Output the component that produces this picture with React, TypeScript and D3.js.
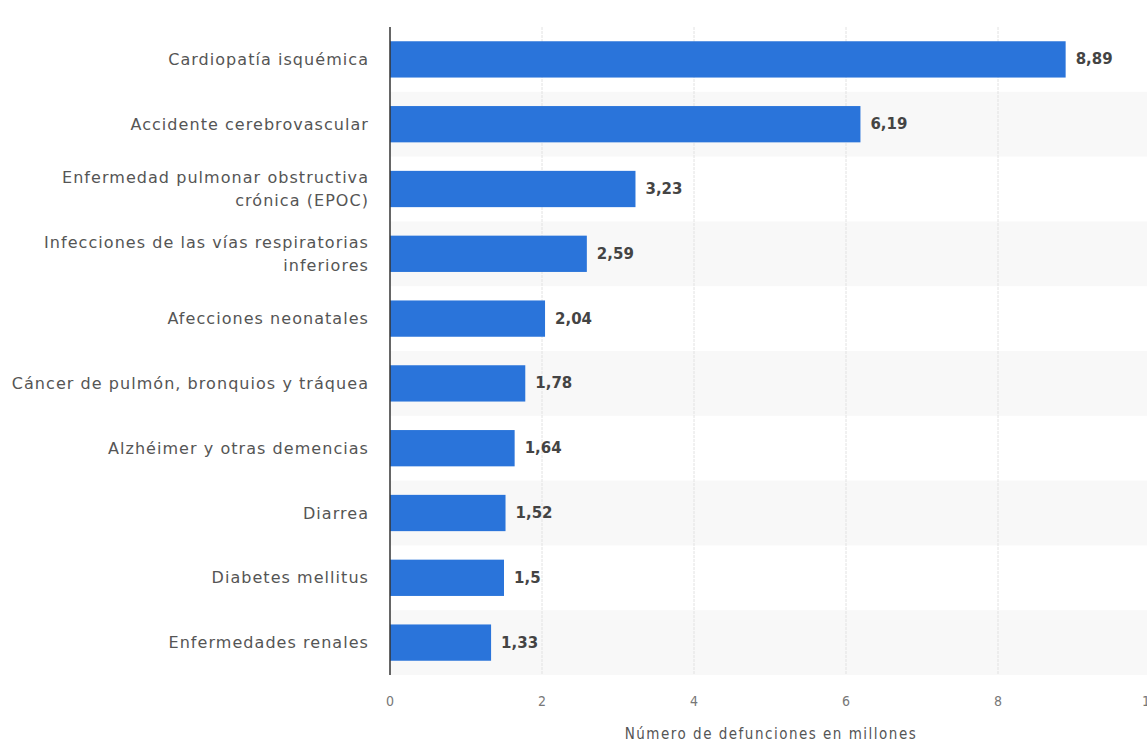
import React from "react";
import * as d3 from "d3";

const categories: string[][] = [
  ["Cardiopatía isquémica"],
  ["Accidente cerebrovascular"],
  ["Enfermedad pulmonar obstructiva", "crónica (EPOC)"],
  ["Infecciones de las vías respiratorias", "inferiores"],
  ["Afecciones neonatales"],
  ["Cáncer de pulmón, bronquios y tráquea"],
  ["Alzhéimer y otras demencias"],
  ["Diarrea"],
  ["Diabetes mellitus"],
  ["Enfermedades renales"],
];
const values: number[] = [8.89, 6.19, 3.23, 2.59, 2.04, 1.78, 1.64, 1.52, 1.5, 1.33];
const xTicks: number[] = [0, 2, 4, 6, 8, 10];
const axisTitle = "Número de defunciones en millones";

const W = 1147;
const H = 744;
const left = 390;
const top = 27;
const bottom = 675;
const font = "'DejaVu Sans', Verdana, sans-serif";
const condensed = "'DejaVu Sans Condensed', 'DejaVu Sans', sans-serif";

export default function App() {
  const x = d3.scaleLinear().domain([0, 10]).range([left, left + 760]);
  const ids = categories.map((_, i) => i);
  const band = d3.scaleBand<number>().domain(ids).range([top, bottom]).paddingInner(0).paddingOuter(0);
  const bar = d3.scaleBand<number>().domain(ids).range([top, bottom]).paddingInner(0.44).paddingOuter(0.22);
  const fmt = (v: number) => String(v).replace(".", ",");

  return (
    <div style={{ position: "absolute", left: 0, top: 0 }}>
      <svg width={W} height={H} style={{ display: "block", background: "#fff" }}>
        {ids.map((i) =>
          i % 2 === 1 ? (
            <rect key={"b" + i} x={left} y={band(i)} width={W - left} height={band.bandwidth()} fill="#f8f8f8" />
          ) : null
        )}
        {xTicks.slice(1).map((t) => (
          <line key={"g" + t} x1={x(t)} x2={x(t)} y1={top} y2={bottom} stroke="#e2e2e2" strokeWidth={1} strokeDasharray="3,1" />
        ))}
        {ids.map((i) => (
          <rect key={"r" + i} x={x(0)} y={bar(i)} width={x(values[i]) - x(0)} height={bar.bandwidth()} fill="#2a74da" />
        ))}
        <line x1={left} x2={left} y1={top} y2={bottom} stroke="#333" strokeWidth={1.5} />
        {ids.map((i) => {
          const cy = (band(i) as number) + band.bandwidth() / 2;
          const lines = categories[i];
          const lh = 23;
          return (
            <text key={"c" + i} textAnchor="end" fontFamily={font} fontSize={16} fill="#555" letterSpacing={1.05}>
              {lines.map((l, k) => (
                <tspan key={k} x={369} y={cy + (k - (lines.length - 1) / 2) * lh} dominantBaseline="central">
                  {l}
                </tspan>
              ))}
            </text>
          );
        })}
        {ids.map((i) => (
          <text
            key={"v" + i}
            x={x(values[i]) + 10}
            y={(band(i) as number) + band.bandwidth() / 2}
            dominantBaseline="central"
            fontFamily={font}
            fontSize={15}
            fontWeight="bold"
            fill="#444"
          >
            {fmt(values[i])}
          </text>
        ))}
        {xTicks.map((t) => (
          <text key={"t" + t} x={x(t)} y={701} textAnchor="middle" dominantBaseline="central" fontFamily={condensed} fontSize={14} fill="#777">
            {t}
          </text>
        ))}
        <text x={771} y={734} textAnchor="middle" dominantBaseline="central" fontFamily={condensed} fontSize={15} fill="#555" letterSpacing={1.5}>
          {axisTitle}
        </text>
      </svg>
    </div>
  );
}
